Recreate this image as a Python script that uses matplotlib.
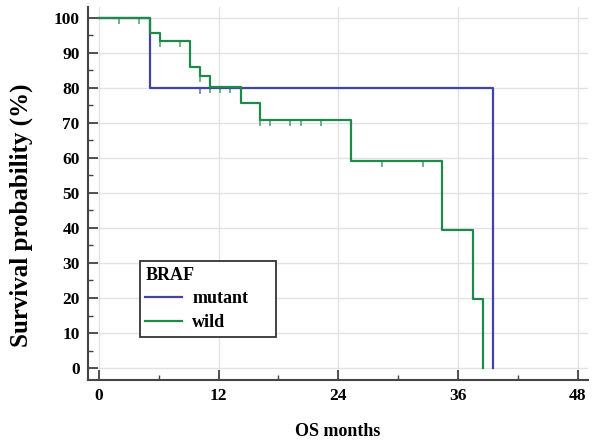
"""Kaplan-Meier curve, OS by BRAF status"""
import numpy as np
import matplotlib
matplotlib.use("Agg")
import matplotlib.pyplot as plt
from matplotlib.ticker import MultipleLocator

# step curves (months, survival %)
mutant_t = [0, 5.1, 39.5]
mutant_s = [100, 80, 0]
mutant_cens = [10.1]

wild_t = [0, 5.1, 6.1, 9.1, 10.1, 11.1, 14.2, 16.2, 25.3, 34.4, 37.5, 38.5]
wild_s = [100, 95.5, 93.3, 86.0, 83.4, 80.3, 75.6, 70.8, 59.0, 39.3, 19.7, 0]
wild_cens = [2.0, 4.0, 6.1, 8.1, 10.1, 11.1, 12.1, 13.1, 16.2, 17.2, 19.2,
             20.3, 22.3, 28.4, 32.5]

groups = ["mutant", "wild"]
colors = {"mutant": "#4343a3", "wild": "#1d8a4b"}
cens_colors = {"mutant": "#6a6ac0", "wild": "#3fa468"}

plt.rcParams["font.family"] = ["Liberation Serif", "DejaVu Serif"]
plt.rcParams["font.weight"] = "bold"

fig = plt.figure(figsize=(5.97, 4.41), dpi=100)
ax = fig.add_axes([88 / 597, 61 / 441, 500 / 597, 373.3 / 441])

data = {"mutant": (mutant_t, mutant_s, mutant_cens),
        "wild": (wild_t, wild_s, wild_cens)}

# downward tick marker for censored cases
tick = [(0, 0), (0, -1)]

for g in groups:
    t, s, c = data[g]
    ax.step(t, s, where="post", color=colors[g], lw=1.6, label=g, zorder=3)
    idx = np.searchsorted(t, c, side="right") - 1
    ax.plot(c, np.array(s)[idx], ls="none", marker=tick, markersize=8,
            mec=cens_colors[g], mew=1.1, mfc="none", zorder=2)

ax.set_xlim(-1.1, 49.05)
ax.set_ylim(-3.4, 103.1)
ax.xaxis.set_major_locator(MultipleLocator(12))
ax.xaxis.set_minor_locator(MultipleLocator(6))
ax.yaxis.set_major_locator(MultipleLocator(10))
ax.yaxis.set_minor_locator(MultipleLocator(5))

ax.grid(True, which="major", color="#e2e2e2", lw=1.0, zorder=0)
ax.set_axisbelow(True)

for side in ["top", "right"]:
    ax.spines[side].set_visible(False)
for side in ["left", "bottom"]:
    ax.spines[side].set_color("#444444")
    ax.spines[side].set_linewidth(1.5)

ax.tick_params(which="major", direction="in", length=7.5, width=1.3,
               color="#444444", labelsize=12.5, pad=6)
ax.tick_params(which="minor", direction="in", length=3.5, width=1.0,
               color="#444444")
for lab in ax.get_xticklabels() + ax.get_yticklabels():
    lab.set_fontweight("bold")

ax.set_xlabel("OS months", fontsize=13, fontweight="bold")
ax.xaxis.set_label_coords(0.5, -0.115)
ax.set_ylabel("Survival probability (%)", fontsize=18, fontweight="bold")
ax.yaxis.set_label_coords(-0.11, 0.44)

leg = ax.legend(title="BRAF", loc="lower left",
                bbox_to_anchor=(0.104, 0.116, 0.272, 0.2), mode="expand",
                borderaxespad=0, fancybox=False, edgecolor="#333333",
                framealpha=1, alignment="left", handlelength=2.0,
                handletextpad=0.6,
                prop={"size": 13, "weight": "bold"},
                title_fontproperties={"size": 13, "weight": "bold"},
                borderpad=0.3, labelspacing=0.38)
leg.get_frame().set_linewidth(1.3)

fig.savefig("out.png", dpi=100)
